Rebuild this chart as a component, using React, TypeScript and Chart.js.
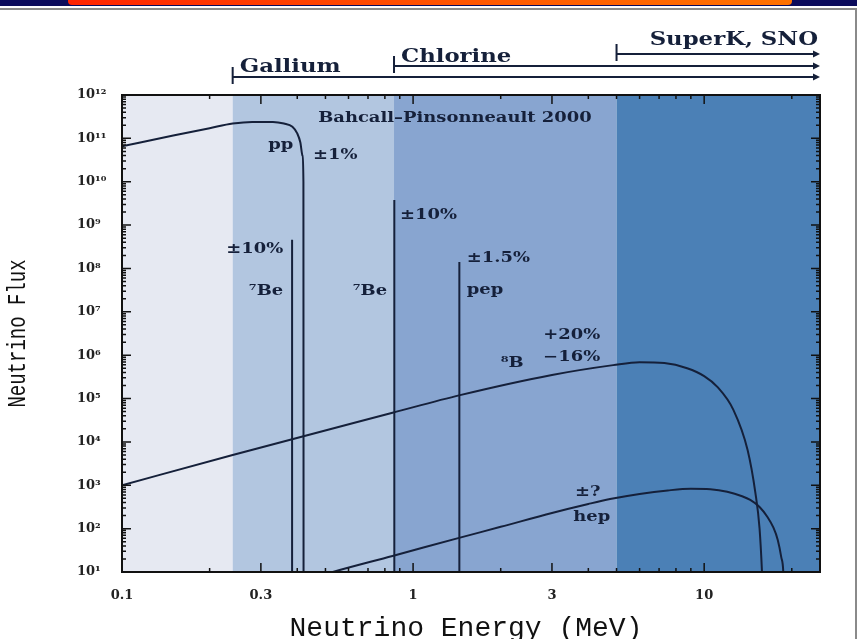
import { useEffect, useRef } from "react";
import { Chart, registerables } from "chart.js";

Chart.register(...registerables);

// ---- axes -------------------------------------------------------------
const energyMin = 0.1;
const energyMax = 25;
const fluxMin = 10;
const fluxMax = 1e12;

const energyTicks = [0.1, 0.3, 1, 3, 10];
const energyTickLabels = ["0.1", "0.3", "1", "3", "10"];
const fluxTicks = [1e1, 1e2, 1e3, 1e4, 1e5, 1e6, 1e7, 1e8, 1e9, 1e10, 1e11, 1e12];
const fluxTickLabels = ["10¹", "10²", "10³", "10⁴", "10⁵", "10⁶", "10⁷", "10⁸", "10⁹", "10¹⁰", "10¹¹", "10¹²"];

// ---- detector thresholds (MeV) -----------------------------------------
const detectorNames = ["Gallium", "Chlorine", "SuperK, SNO"];
const detectorThresholds = [0.24, 0.86, 5];

// shaded energy windows
const bandEdges = [0.1, 0.24, 0.86, 5, 25];

// ---- continuum spectra (MeV, flux) --------------------------------------
const ppEnergy = [0.1, 0.15, 0.2, 0.24, 0.28, 0.33, 0.36, 0.385, 0.4, 0.41, 0.417, 0.42, 0.4205];
const ppFlux = [6.6e10, 1.16e11, 1.72e11, 2.2e11, 2.4e11, 2.4e11, 2.2e11, 1.85e11, 1.3e11, 8e10, 4e10, 1e10, 1];

const b8Energy = [0.1, 0.24, 0.85, 1.45, 3, 4.87, 6.0, 7.3, 8.74, 10, 11.1, 12.6, 14.1, 15.0, 15.5, 15.8, 16.0];
const b8Flux = [1.0e3, 5.0e3, 4.7e4, 1.2e5, 3.5e5, 5.9e5, 6.9e5, 6.6e5, 5.0e5, 3.3e5, 1.86e5, 5.5e4, 6.5e3, 6.6e2, 1e2, 1e1, 1];

const hepEnergy = [0.45, 0.53, 0.85, 1.45, 2.0, 3.0, 4.0, 4.75, 6.0, 7.5, 9.0, 10.5, 12.0, 13.5, 14.4, 15.5, 16.5, 17.3, 17.9, 18.4, 18.7, 18.9];
const hepFlux = [7.2, 10, 23.4, 62, 110, 230, 370, 480, 630, 760, 830, 810, 710, 560, 460, 316, 186, 105, 55, 22, 10, 1];

// ---- line sources (MeV, flux) --------------------------------------------
const lineNames = ["7Be 0.38", "7Be 0.86", "pep"];
const lineEnergy = [0.384, 0.862, 1.442];
const lineFlux = [4.6e8, 3.8e9, 1.4e8];

// ---- in-plot annotations ---------------------------------------------------
const noteTexts = ["Bahcall–Pinsonneault 2000", "pp", "±1%", "±10%", "⁷Be", "⁷Be", "±10%", "±1.5%", "pep", "⁸B", "+20%", "−16%", "±?", "hep"];
const noteEnergy = [0.472, 0.351, 0.453, 0.358, 0.358, 0.814, 0.902, 1.53, 1.53, 2.19, 2.8, 2.8, 3.6, 3.55];
const noteFlux = [2.96e11, 7.0e10, 4.1e10, 2.7e8, 2.9e7, 2.9e7, 1.7e9, 1.74e8, 3.2e7, 6.6e5, 2.9e6, 9.1e5, 690, 186];
const noteAlign: CanvasTextAlign[] = ["left", "center", "left", "right", "right", "right", "left", "left", "left", "center", "left", "left", "left", "left"];

// ---- styles ----------------------------------------------------------------
const INK = "#15203a";
const BAND_COLORS = ["#e6e9f2", "#b2c6e0", "#88a5d0", "#4b80b6"];
const DETECTOR_GAP = [18, 29, 41];
const DETECTOR_TEXT_LIFT = [5, 4, 9];

function stretchedText(
  ctx: CanvasRenderingContext2D,
  s: string,
  x: number,
  y: number,
  font: string,
  align: CanvasTextAlign,
  sx: number,
  color: string,
  baseline: CanvasTextBaseline = "middle"
) {
  ctx.save();
  ctx.font = font;
  ctx.fillStyle = color;
  ctx.textAlign = align;
  ctx.textBaseline = baseline;
  ctx.translate(x, y);
  ctx.scale(sx, 1);
  ctx.fillText(s, 0, 0);
  ctx.restore();
}

const bandsPlugin = {
  id: "bands",
  beforeDatasetsDraw(chart: any) {
    const { ctx, chartArea: a, scales } = chart;
    const xs = scales.x;
    ctx.save();
    for (let i = 0; i < BAND_COLORS.length; i++) {
      const x0 = xs.getPixelForValue(bandEdges[i]);
      const x1 = xs.getPixelForValue(bandEdges[i + 1]);
      ctx.fillStyle = BAND_COLORS[i];
      ctx.fillRect(x0, a.top, x1 - x0, a.bottom - a.top);
    }
    ctx.restore();
  },
};

const framePlugin = {
  id: "frame",
  afterDatasetsDraw(chart: any) {
    const { ctx, chartArea: a, scales } = chart;
    const xs = scales.x;
    const ys = scales.y;
    ctx.save();
    ctx.strokeStyle = "#111";
    ctx.lineWidth = 1.5;
    ctx.beginPath();
    for (let d = 1; d <= 12; d++) {
      for (let m = 1; m <= 9; m++) {
        const v = m * Math.pow(10, d);
        if (v < fluxMin || v > fluxMax) continue;
        const len = m === 1 ? 9 : 4;
        const py = ys.getPixelForValue(v);
        ctx.moveTo(a.left, py);
        ctx.lineTo(a.left + len, py);
        ctx.moveTo(a.right, py);
        ctx.lineTo(a.right - len, py);
      }
    }
    for (let d = -1; d <= 1; d++) {
      for (let m = 1; m <= 9; m++) {
        const v = m * Math.pow(10, d);
        if (v < energyMin || v > energyMax) continue;
        const len = m === 1 || m === 3 ? 9 : 4;
        const px = xs.getPixelForValue(v);
        ctx.moveTo(px, a.bottom);
        ctx.lineTo(px, a.bottom - len);
        ctx.moveTo(px, a.top);
        ctx.lineTo(px, a.top + len);
      }
    }
    ctx.stroke();
    ctx.lineWidth = 2;
    ctx.strokeRect(a.left, a.top, a.right - a.left, a.bottom - a.top);
    ctx.restore();
  },
};

const textPlugin = {
  id: "texts",
  afterDraw(chart: any) {
    const { ctx, chartArea: a, scales } = chart;
    const xs = scales.x;
    const ys = scales.y;

    // in-plot labels
    noteTexts.forEach((t, i) => {
      stretchedText(
        ctx,
        t,
        xs.getPixelForValue(noteEnergy[i]),
        ys.getPixelForValue(noteFlux[i]),
        'bold 14px "DejaVu Serif"',
        noteAlign[i],
        1.28,
        INK
      );
    });

    // detector sensitivity ranges above the plot
    ctx.save();
    ctx.strokeStyle = INK;
    ctx.fillStyle = INK;
    ctx.lineWidth = 2;
    detectorNames.forEach((name, i) => {
      const x0 = xs.getPixelForValue(detectorThresholds[i]);
      const yl = a.top - DETECTOR_GAP[i];
      ctx.beginPath();
      ctx.moveTo(x0, yl);
      ctx.lineTo(a.right - 4, yl);
      ctx.moveTo(x0, yl - 10);
      ctx.lineTo(x0, yl + 7);
      ctx.stroke();
      ctx.beginPath();
      ctx.moveTo(a.right, yl);
      ctx.lineTo(a.right - 7, yl - 3.5);
      ctx.lineTo(a.right - 7, yl + 3.5);
      ctx.closePath();
      ctx.fill();
      const last = i === detectorNames.length - 1;
      stretchedText(
        ctx,
        name,
        last ? a.right - 2 : x0 + 7,
        yl - DETECTOR_TEXT_LIFT[i],
        'bold 19px "DejaVu Serif"',
        last ? "right" : "left",
        1.2,
        INK,
        "alphabetic"
      );
    });
    ctx.restore();

    // axis titles
    stretchedText(ctx, "Neutrino Energy (MeV)", (a.left + a.right) / 2 - 5, 636, '28px "Liberation Mono"', "center", 1, "#111", "alphabetic");
    ctx.save();
    ctx.translate(18, (a.top + a.bottom) / 2);
    ctx.rotate(-Math.PI / 2);
    ctx.scale(1, 1.35);
    ctx.font = '19px "Liberation Mono"';
    ctx.fillStyle = "#111";
    ctx.textAlign = "center";
    ctx.textBaseline = "middle";
    ctx.fillText("Neutrino Flux", 0, 0);
    ctx.restore();
  },
};

export default function App() {
  const ref = useRef<HTMLCanvasElement>(null);

  useEffect(() => {
    const canvas = ref.current;
    if (!canvas) return;
    const pts = (xs: number[], ys: number[]) => xs.map((x, i) => ({ x, y: ys[i] }));
    const curve = (label: string, xs: number[], ys: number[]) => ({
      label,
      data: pts(xs, ys),
      borderColor: INK,
      borderWidth: 2,
      pointRadius: 0,
      fill: false,
      cubicInterpolationMode: "monotone" as const,
    });
    const datasets: any[] = [
      curve("pp", ppEnergy, ppFlux),
      curve("8B", b8Energy, b8Flux),
      curve("hep", hepEnergy, hepFlux),
      ...lineEnergy.map((e, i) => ({
        label: lineNames[i],
        data: [
          { x: e, y: 1 },
          { x: e, y: lineFlux[i] },
        ],
        borderColor: INK,
        borderWidth: 2,
        pointRadius: 0,
        fill: false,
        tension: 0,
      })),
    ];

    const tickFont = { family: '"DejaVu Serif"', size: 13, weight: "bold" as const };

    const chart = new Chart(canvas, {
      type: "line",
      data: { datasets },
      options: {
        responsive: false,
        animation: false,
        layout: { padding: { left: 77, top: 95, right: 37, bottom: 37 } },
        plugins: { legend: { display: false }, tooltip: { enabled: false } },
        scales: {
          x: {
            type: "logarithmic",
            min: energyMin,
            max: energyMax,
            grid: { display: false },
            border: { display: false },
            afterBuildTicks: (s: any) => {
              s.ticks = energyTicks.map((v) => ({ value: v }));
            },
            afterFit: (s: any) => {
              s.height = 30;
            },
            ticks: {
              autoSkip: false,
              maxRotation: 0,
              padding: 8,
              font: tickFont,
              color: "#222",
              callback: (_v: any, i: number) => energyTickLabels[i],
            },
          },
          y: {
            type: "logarithmic",
            min: fluxMin,
            max: fluxMax,
            grid: { display: false },
            border: { display: false },
            afterBuildTicks: (s: any) => {
              s.ticks = fluxTicks.map((v) => ({ value: v }));
            },
            afterFit: (s: any) => {
              s.width = 45;
            },
            ticks: {
              autoSkip: false,
              crossAlign: "far",
              padding: 0,
              font: tickFont,
              color: "#222",
              callback: (_v: any, i: number) => fluxTickLabels[i],
            },
          },
        },
      },
      plugins: [bandsPlugin, framePlugin, textPlugin],
    });
    return () => chart.destroy();
  }, []);

  return (
    <div style={{ position: "fixed", left: 0, top: 0, width: 857, height: 639, background: "#fff", overflow: "hidden" }}>
      <div style={{ position: "absolute", left: 0, top: 0, width: 857, height: 6, background: "#0b0b5c" }} />
      <div
        style={{
          position: "absolute",
          left: 68,
          top: 0,
          width: 724,
          height: 5,
          background: "linear-gradient(90deg, #ff2400, #ff5a00 60%, #ff7200)",
          borderBottomLeftRadius: 4,
          borderBottomRightRadius: 4,
        }}
      />
      <div style={{ position: "absolute", left: 0, top: 8, width: 857, height: 2, background: "#8a8a8a" }} />
      <div style={{ position: "absolute", left: 855, top: 8, width: 2, height: 631, background: "#8a8a8a" }} />
      <canvas ref={ref} width={857} height={639} style={{ position: "absolute", left: 0, top: 0 }} />
    </div>
  );
}
